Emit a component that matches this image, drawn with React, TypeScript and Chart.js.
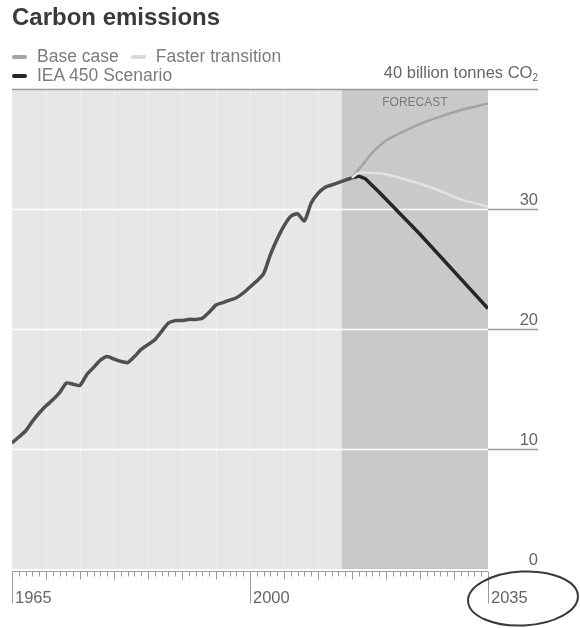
import React, { useEffect, useRef } from "react";
import { Chart, registerables } from "chart.js";

Chart.register(...registerables);

// ---- data ----
const historyYears = [1965, 1966, 1967, 1968, 1969, 1970, 1971, 1972, 1973, 1974, 1975, 1976, 1977, 1978, 1979, 1980, 1981, 1982, 1983, 1984, 1985, 1986, 1987, 1988, 1989, 1990, 1991, 1992, 1993, 1994, 1995, 1996, 1997, 1998, 1999, 2000, 2001, 2002, 2003, 2004, 2005, 2006, 2007, 2008, 2009, 2010, 2011, 2012, 2013, 2014, 2015];
const historyValues = [10.5, 11.0, 11.5, 12.3, 13.0, 13.6, 14.1, 14.7, 15.5, 15.4, 15.3, 16.2, 16.8, 17.4, 17.7, 17.5, 17.3, 17.2, 17.7, 18.3, 18.7, 19.1, 19.8, 20.5, 20.7, 20.7, 20.8, 20.8, 20.9, 21.4, 22.0, 22.2, 22.4, 22.6, 23.0, 23.5, 24.0, 24.6, 26.2, 27.5, 28.6, 29.4, 29.6, 29.0, 30.5, 31.3, 31.8, 32.0, 32.2, 32.4, 32.6];

const baseYears = [2015, 2016, 2017, 2018, 2020, 2022, 2025, 2028, 2031, 2035];
const baseValues = [32.6, 33.3, 34.0, 34.7, 35.7, 36.3, 37.1, 37.7, 38.25, 38.8];

const fasterYears = [2015, 2016, 2018, 2020, 2022, 2025, 2028, 2031, 2035];
const fasterValues = [32.6, 33.0, 33.0, 32.9, 32.6, 32.1, 31.5, 30.8, 30.2];

const ieaYears = [2015, 2016, 2017, 2019, 2025, 2030, 2035];
const ieaValues = [32.6, 32.75, 32.5, 31.4, 27.9, 24.8, 21.7];

const forecastStart = 2013.5;
const xMin = 1965;
const xMax = 2035;
const xLabels = [1965, 2000, 2035];
const yTicks = [0, 10, 20, 30];
const yMax = 40;

const seriesNames = ["Base case", "Faster transition", "IEA 450 Scenario"];

const FONT = "'Liberation Sans', Arial, sans-serif";

const pts = (xs: number[], ys: number[]) => xs.map((x, i) => ({ x, y: ys[i] }));

const decorPlugin = {
  id: "decor",
  beforeDatasetsDraw(chart: any) {
    const { ctx, chartArea: a, scales } = chart;
    const xs = scales.x;
    const ys = scales.y;
    const fx = xs.getPixelForValue(forecastStart);
    ctx.save();
    ctx.fillStyle = "#e7e7e7";
    ctx.fillRect(a.left, a.top, fx - a.left, a.bottom - a.top);
    ctx.fillStyle = "#c9c9c9";
    ctx.fillRect(fx, a.top, a.right - fx, a.bottom - a.top);
    // faint vertical stripes
    ctx.strokeStyle = "rgba(255,255,255,0.35)";
    ctx.lineWidth = 1;
    for (let yr = 1970; yr < 2013; yr += 5) {
      const px = Math.round(xs.getPixelForValue(yr)) + 0.5;
      ctx.beginPath();
      ctx.moveTo(px, a.top);
      ctx.lineTo(px, a.bottom);
      ctx.stroke();
    }
    // white gridlines
    ctx.strokeStyle = "#ffffff";
    ctx.lineWidth = 1.5;
    for (const v of yTicks) {
      if (v === 0) continue;
      const py = Math.round(ys.getPixelForValue(v)) + 0.5;
      ctx.beginPath();
      ctx.moveTo(a.left, py);
      ctx.lineTo(a.right, py);
      ctx.stroke();
    }
    ctx.restore();
  },
  afterDraw(chart: any) {
    const { ctx, chartArea: a, scales } = chart;
    const xs = scales.x;
    const ys = scales.y;
    const labelRight = a.right + 50;
    ctx.save();
    // right gray extensions + labels
    ctx.strokeStyle = "#9a9a9a";
    ctx.lineWidth = 1.5;
    ctx.fillStyle = "#666";
    ctx.font = `16.5px ${FONT}`;
    ctx.textAlign = "right";
    ctx.textBaseline = "alphabetic";
    for (const v of yTicks) {
      const py = Math.round(ys.getPixelForValue(v)) + 0.5;
      if (v !== 0) {
        ctx.beginPath();
        ctx.moveTo(a.right, py);
        ctx.lineTo(labelRight, py);
        ctx.stroke();
      }
      ctx.fillText(String(v), labelRight, py - 5);
    }
    // top 40 line
    const pTop = Math.round(ys.getPixelForValue(yMax)) + 0.5;
    ctx.beginPath();
    ctx.moveTo(a.left, pTop);
    ctx.lineTo(labelRight, pTop);
    ctx.stroke();
    // x axis line and ticks
    ctx.strokeStyle = "#9a9a9a";
    ctx.lineWidth = 1;
    const axY = a.bottom + 2.5;
    ctx.beginPath();
    ctx.moveTo(a.left, axY);
    ctx.lineTo(a.right, axY);
    ctx.stroke();
    for (let yr = xMin; yr <= xMax; yr++) {
      const px = Math.round(xs.getPixelForValue(yr)) + 0.5;
      const len = xLabels.includes(yr) ? 32 : yr % 5 === 0 ? 8 : 5;
      ctx.beginPath();
      ctx.moveTo(px, axY);
      ctx.lineTo(px, axY + len);
      ctx.stroke();
    }
    ctx.textAlign = "left";
    ctx.fillStyle = "#666";
    ctx.font = `16.5px ${FONT}`;
    for (const yr of xLabels) {
      const px = xs.getPixelForValue(yr);
      ctx.fillText(String(yr), px + 3, axY + 31);
    }
    // FORECAST label
    const fx = xs.getPixelForValue(forecastStart);
    ctx.textAlign = "center";
    ctx.font = `12px ${FONT}`;
    ctx.fillStyle = "#7a7a7a";
    ctx.fillText("FORECAST", (fx + a.right) / 2, a.top + 17);
    // annotation ellipse around 2035
    ctx.strokeStyle = "#3a3a3a";
    ctx.lineWidth = 2;
    ctx.beginPath();
    ctx.ellipse(xs.getPixelForValue(xMax) + 35, axY + 27, 55, 27, -0.05, 0, Math.PI * 2);
    ctx.stroke();
    ctx.restore();
  },
};

export default function App() {
  const ref = useRef<HTMLCanvasElement | null>(null);
  useEffect(() => {
    if (!ref.current) return;
    const chart = new Chart(ref.current, {
      type: "line",
      data: {
        datasets: [
          {
            label: seriesNames[1],
            data: pts(fasterYears, fasterValues),
            borderColor: "#e2e2e2",
            borderWidth: 2.5,
            pointRadius: 0,
            tension: 0.3,
          },
          {
            label: seriesNames[0],
            data: pts(baseYears, baseValues),
            borderColor: "#a3a3a3",
            borderWidth: 2.5,
            pointRadius: 0,
            tension: 0.3,
          },
          {
            label: seriesNames[2],
            data: pts(ieaYears, ieaValues),
            borderColor: "#262626",
            borderWidth: 3.5,
            pointRadius: 0,
            tension: 0,
          },
          {
            label: "History",
            data: pts(historyYears, historyValues),
            borderColor: "#505050",
            borderWidth: 3.5,
            pointRadius: 0,
            tension: 0.2,
          },
        ],
      },
      options: {
        animation: false,
        responsive: false,
        maintainAspectRatio: false,
        layout: { padding: { left: 12, right: 92, top: 89, bottom: 59 } },
        plugins: { legend: { display: false }, tooltip: { enabled: false }, title: { display: false } },
        scales: {
          x: { type: "linear", min: xMin, max: xMax, display: false },
          y: { min: 0, max: yMax, display: false },
        },
      },
      plugins: [decorPlugin],
    });
    return () => chart.destroy();
  }, []);

  const legendMark = (color: string) => (
    <span style={{ display: "inline-block", width: 15, height: 4, background: color, verticalAlign: "middle", marginRight: 10, borderRadius: 2 }} />
  );

  return (
    <div style={{ position: "fixed", left: 0, top: 0, width: 580, height: 628, background: "#fff", fontFamily: FONT }}>
      <canvas ref={ref} width={580} height={628} style={{ position: "absolute", left: 0, top: 0, width: 580, height: 628 }} />
      <div style={{ position: "absolute", left: 12, top: 3, fontSize: 24, fontWeight: "bold", color: "#3a3a3a", whiteSpace: "nowrap" }}>
        Carbon emissions
      </div>
      <div style={{ position: "absolute", left: 12, top: 47, fontSize: 17.5, color: "#7c7c7c", lineHeight: "19px", whiteSpace: "nowrap" }}>
        <div>
          {legendMark("#a3a3a3")}{seriesNames[0]}
          <span style={{ marginLeft: 12 }}>{legendMark("#d9d9d9")}{seriesNames[1]}</span>
        </div>
        <div>{legendMark("#262626")}{seriesNames[2]}</div>
      </div>
      <div style={{ position: "absolute", right: 42, top: 63, fontSize: 16.5, color: "#666", whiteSpace: "nowrap" }}>
        40 billion tonnes CO<sub style={{ fontSize: 10, verticalAlign: "-3px" }}>2</sub>
      </div>
    </div>
  );
}
